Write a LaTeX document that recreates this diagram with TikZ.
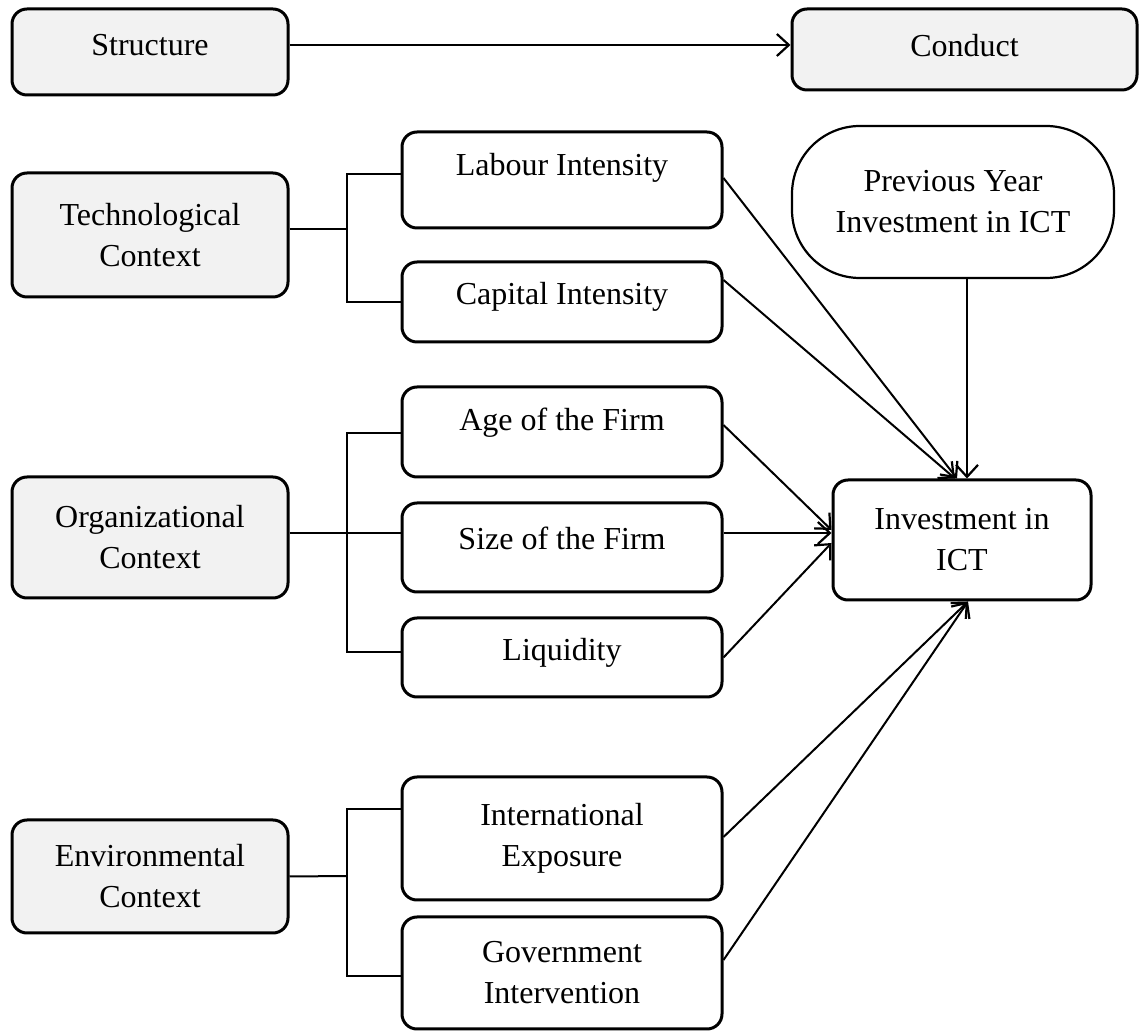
\documentclass[tikz,border=0pt]{standalone}
\usepackage{fontspec}
\setmainfont{Liberation Serif}
\usetikzlibrary{arrows.meta}
\newcommand\liftup[2]{\raisebox{#1}[\height][\depth]{#2}}
\definecolor{boxgray}{HTML}{F2F2F2}
\tikzset{
  box/.style={draw, line width=1.5pt, rounded corners=7.5pt, inner sep=0pt,
    align=center, font=\fontsize{16}{20.5}\selectfont, minimum width=160pt},
  ctx/.style={box, fill=boxgray, minimum width=138pt},
  pill/.style={box, rounded corners=34pt, line width=1.1pt},
  conn/.style={line width=1pt},
  arr/.style={conn, -{Straight Barb[length=6pt,width=11pt,line width=1.1pt]}}
}
\begin{document}
\begin{tikzpicture}[x=0.5pt,y=-0.5pt]
\useasboundingbox (0,0) rectangle (1142,1031);
% context boxes
\node[ctx, minimum height=43pt] (structure) at (150,52) {\liftup{3.5pt}{Structure}};
\node[ctx, minimum width=172.5pt, minimum height=40.5pt] (conduct) at (964.5,49.5) {\liftup{2.2pt}{Conduct}};
\node[ctx, minimum height=62pt] (tech) at (150,235) {Technological\\Context};
\node[ctx, minimum height=60.5pt] (org) at (150,537.5) {Organizational\\Context};
\node[ctx, minimum height=56.5pt] (env) at (150,876.5) {Environmental\\Context};
% factor boxes
\node[box, minimum height=48pt] (labour) at (562,180) {\liftup{6pt}{Labour Intensity}};
\node[box, minimum height=40pt] (capital) at (562,302) {\liftup{2.5pt}{Capital Intensity}};
\node[box, minimum height=45pt] (age) at (562,432) {\liftup{4.5pt}{Age of the Firm}};
\node[box, minimum height=44.5pt] (size) at (562,547.5) {\liftup{4.7pt}{Size of the Firm}};
\node[box, minimum height=39.5pt] (liq) at (562,657.5) {\liftup{2.2pt}{Liquidity}};
\node[box, minimum height=61.5pt] (intl) at (562,838.5) {International\\Exposure};
\node[box, minimum height=56pt] (gov) at (562,973) {Government\\Intervention};
% right side
\node[pill, minimum width=161pt, minimum height=76pt] (prev) at (953,202) {Previous Year\\Investment in ICT};
\node[box, minimum width=129pt, minimum height=60pt] (inv) at (962,540) {Investment in\\ICT};
% brackets
\coordinate (bt) at (347,229);
\coordinate (bo) at (347,533);
\coordinate (be) at (347,876);
\draw[conn] ([yshift=3pt]tech.east) -- (bt);
\draw[conn] ([yshift=3pt]labour.west) -| (capital.west -| bt) -- (capital.west);
\draw[conn] ([yshift=2.25pt]org.east) -- (bo);
\draw[conn] ([yshift=-0.5pt]age.west) -| ([yshift=2.75pt]liq.west -| bo) -- ([yshift=2.75pt]liq.west);
\draw[conn] (bo) -- ([yshift=7.25pt]size.west);
\draw[conn] (env.east) -- (be);
\draw[conn] ([yshift=14.75pt]intl.west) -| ([yshift=-1.5pt]gov.west -| be) -- ([yshift=-1.5pt]gov.west);
% arrows
\draw[arr] ([yshift=3.5pt]structure.east) -- ([yshift=2.25pt]conduct.west);
\draw[arr] ([yshift=1pt]labour.east) -- ([xshift=-2.5pt]inv.north);
\draw[arr] ([yshift=11pt]capital.east) -- ([xshift=-3.5pt]inv.north);
\draw[arr] ([xshift=7pt]prev.south) -- ([xshift=2.5pt]inv.north);
\draw[arr] ([yshift=3.5pt]age.east) -- ([yshift=5pt]inv.west);
\draw[arr] ([yshift=7.25pt]size.east) -- ([yshift=3.5pt]inv.west);
\draw[arr] (liq.east) -- ([yshift=-1.5pt]inv.west);
\draw[arr] ([yshift=0.75pt]intl.east) -- ([xshift=3pt]inv.south);
\draw[arr] ([yshift=6.5pt]gov.east) -- ([xshift=3pt]inv.south);
\end{tikzpicture}
\end{document}
